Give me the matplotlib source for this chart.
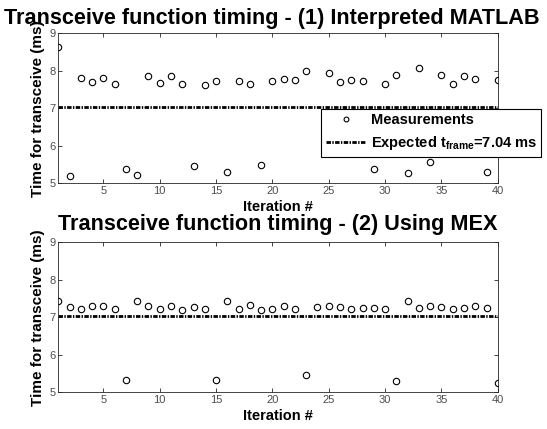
import numpy as np
import matplotlib.pyplot as plt

plt.rcParams['font.family'] = ['Liberation Sans', 'DejaVu Sans']
plt.rcParams['mathtext.fontset'] = 'custom'
plt.rcParams['mathtext.rm'] = 'Liberation Sans:bold'
plt.rcParams['mathtext.bf'] = 'Liberation Sans:bold'
plt.rcParams['mathtext.it'] = 'Liberation Sans:bold'

iterations = np.arange(1, 41)

# interpreted MATLAB (iteration 24 not shown)
t_interp = [8.63, 5.20, 7.82, 7.69, 7.82, 7.66, 5.39, 5.22, 7.86, 7.68,
            7.86, 7.66, 5.46, 7.61, 7.74, 5.29, 7.74, 7.66, 5.50, 7.72,
            7.78, 7.76, 7.99, np.nan, 7.93, 7.69, 7.76, 7.72, 5.37, 7.64,
            7.88, 5.27, 8.08, 5.56, 7.88, 7.64, 7.86, 7.78, 5.29, 7.76]

# MEX
t_mex = [7.43, 7.27, 7.21, 7.29, 7.29, 7.21, 5.32, 7.44, 7.29, 7.23,
         7.29, 7.19, 7.27, 7.23, 5.32, 7.43, 7.21, 7.34, 7.19, 7.23,
         7.29, 7.23, 5.46, 7.27, 7.29, 7.27, 7.23, 7.25, 7.25, 7.23,
         5.30, 7.43, 7.25, 7.29, 7.27, 7.23, 7.25, 7.31, 7.25, 5.24]

t_frame = 7.04
titles = ['Transceive function timing - (1) Interpreted MATLAB',
          'Transceive function timing - (2) Using MEX']

fig = plt.figure(figsize=(5.47, 4.29), dpi=100)
ax1 = fig.add_axes([0.1066, 0.5727, 0.8034, 0.3497])
ax2 = fig.add_axes([0.1066, 0.0855, 0.8034, 0.3497])

for ax, data, title, tx, tpad, xpad in zip([ax1, ax2], [t_interp, t_mex], titles,
                                            [0.485, 0.5], [7, 8.5], [2.5, 3]):
    ax.plot(iterations, data, 'o', mfc='none', mec='black', ms=4.6, mew=0.8,
            label='Measurements')
    ax.axhline(t_frame, color='black', lw=2, dashes=(1.6, 0.5, 0.5, 0.5),
               label=r'Expected t$_{frame}$=7.04 ms')
    ax.set_xlim(1, 40)
    ax.set_ylim(5, 9)
    ax.set_xticks([5, 10, 15, 20, 25, 30, 35, 40])
    ax.set_yticks([5, 6, 7, 8, 9])
    ax.tick_params(direction='in', top=True, right=True, length=3, width=0.6,
                   labelsize=8, labelcolor='#4d4d4d', color='#262626', pad=2)
    for s in ax.spines.values():
        s.set_color('#262626')
        s.set_linewidth(0.6)
    ax.set_title(title, fontsize=15.6, fontweight='bold', pad=tpad, x=tx)
    ax.set_xlabel('Iteration #', fontsize=10.5, fontweight='bold', labelpad=xpad)
    ax.set_ylabel('Time for transceive (ms)', fontsize=11, fontweight='bold', labelpad=3)

leg = ax1.legend(loc='upper right', bbox_to_anchor=(1.099, 0.497), borderaxespad=0,
                 fancybox=False, framealpha=1, edgecolor='black',
                 prop={'weight': 'bold', 'size': 10.5}, handlelength=2.8,
                 borderpad=0.3, labelspacing=0.5, handletextpad=0.3,
                 markerscale=0.75)
leg.get_frame().set_linewidth(0.8)

plt.savefig('out.png', dpi=100)
